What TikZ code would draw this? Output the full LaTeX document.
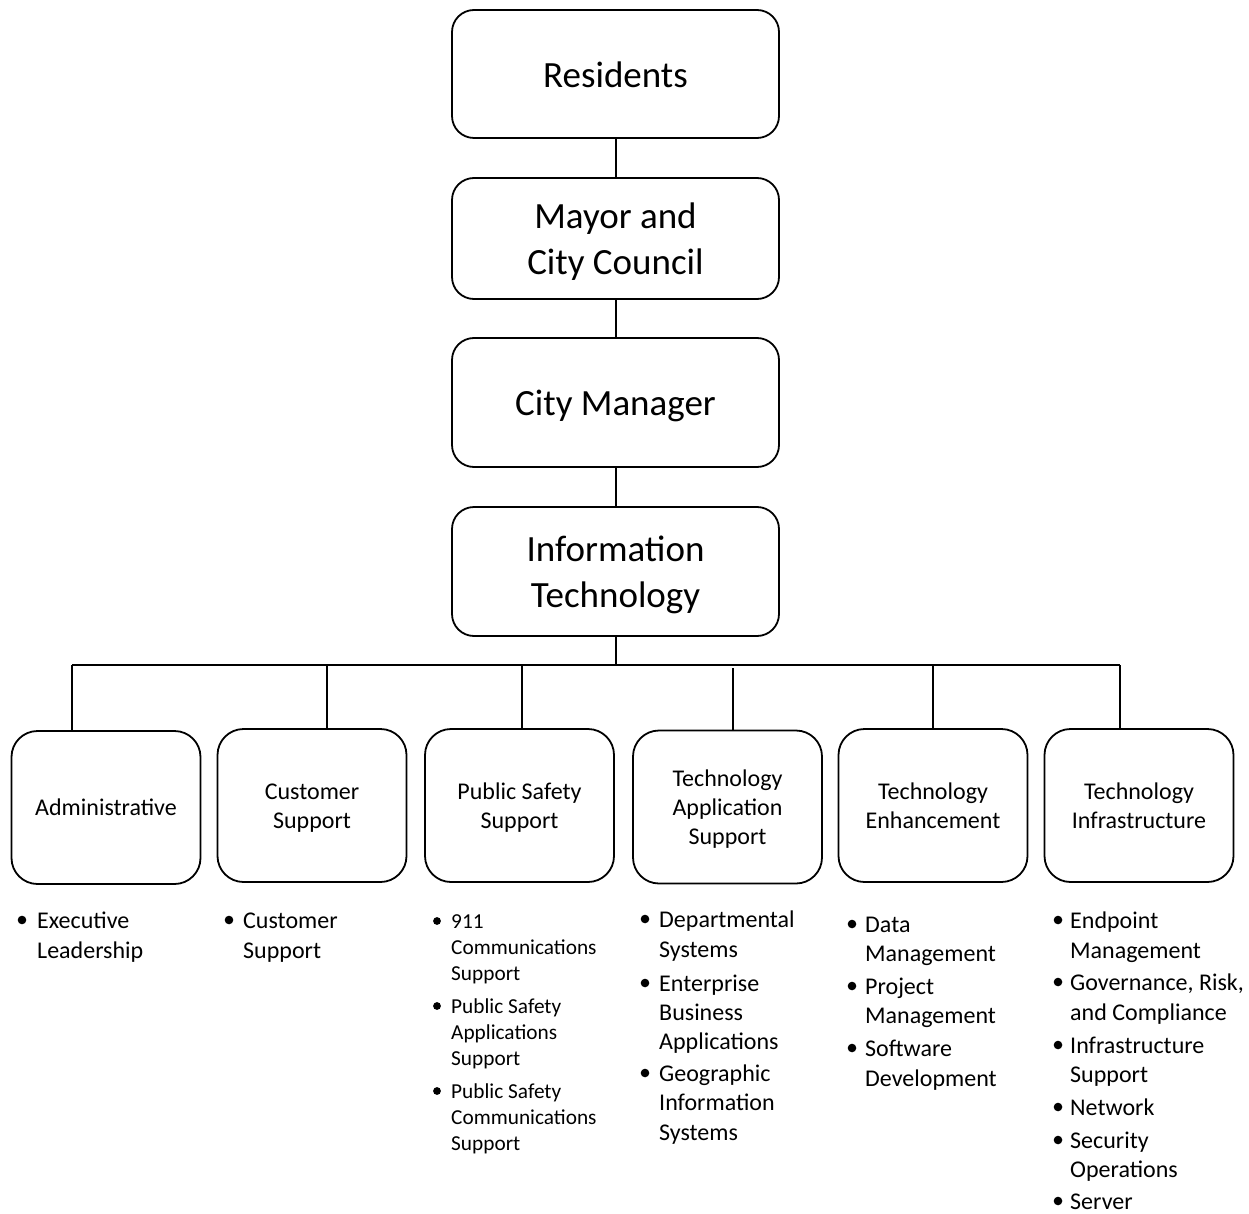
\documentclass[tikz,border=0pt]{standalone}
\usepackage{fontspec}
\setmainfont{Carlito}
\begin{document}
\begin{tikzpicture}[x=1pt,y=-1pt,
  topbox/.style={draw,line width=1.8pt,rounded corners=22pt,minimum width=327pt,inner sep=0pt},
  toptext/.style={align=center,inner sep=0pt,font=\fontsize{37}{46}\selectfont},
  subbox/.style={draw,line width=1.8pt,rounded corners=26pt,minimum width=189pt,minimum height=153pt,inner sep=0pt},
  subtext/.style={align=center,inner sep=0pt,font=\fontsize{24}{29}\selectfont},
  lnode/.style={anchor=base west,inner sep=0pt,font=\fontsize{24}{29}\selectfont},
  snode/.style={anchor=base west,inner sep=0pt,font=\fontsize{21.3}{26}\selectfont},
  conn/.style={line width=2pt}]
\useasboundingbox (0,0) rectangle (1249,1214);
% top chain
\node[topbox,minimum height=128pt] (res) at (615.5,74) {};
\node[toptext] (resT) at (615.5,78.7) {\strut Residents};
\node[topbox,minimum height=121pt] (may) at (615.5,238.5) {};
\node[toptext] (mayT) at (615.5,242.7) {\strut Mayor and\\\strut City Council};
\node[topbox,minimum height=129pt] (cm) at (615.5,402.5) {};
\node[toptext] (cmT) at (615.5,406.7) {\strut City Manager};
\node[topbox,minimum height=129pt] (it) at (615.5,571.5) {};
\node[toptext] (itT) at (615.5,575.2) {\strut Information\\\strut Technology};
\draw[conn] (res) -- (may);
\draw[conn] (may) -- (cm);
\draw[conn] (cm) -- (it);
% sub boxes
\node[subbox] (adm) at (106,807.5) {};
\node[subtext] (admT) at (106,809.9) {\strut Administrative};
\node[subbox] (cus) at (312,805.5) {};
\node[subtext] (cusT) at (312,808.4) {\strut Customer\\\strut Support};
\node[subbox] (pss) at (519.5,805.5) {};
\node[subtext] (pssT) at (519.5,808.4) {\strut Public Safety\\\strut Support};
\node[subbox] (tas) at (727.5,807) {};
\node[subtext] (tasT) at (727.5,809.9) {\strut Technology\\\strut Application\\\strut Support};
\node[subbox] (tes) at (933,805.5) {};
\node[subtext] (tesT) at (933,808.4) {\strut Technology\\\strut Enhancement};
\node[subbox] (tis) at (1139,805.5) {};
\node[subtext] (tisT) at (1139,808.4) {\strut Technology\\\strut Infrastructure};
% bus
\coordinate (bus) at (615.5,665);
\coordinate (bl) at (72,665);
\coordinate (br) at (1120,665);
\draw[conn] (it) -- (bus);
\draw[conn] (bl) -- (br);
\coordinate (d1) at (72,665);
\coordinate (d2) at (327,665);
\coordinate (d3) at (522,665);
\coordinate (d4) at (733,668);
\coordinate (d5) at (933,665);
\coordinate (d6) at (1120,665);
\draw[conn] (d1) -- (d1 |- adm.north);
\draw[conn] (d2) -- (d2 |- cus.north);
\draw[conn] (d3) -- (d3 |- pss.north);
\draw[conn] (d4) -- (d4 |- tas.north);
\draw[conn] (d5) -- (d5 |- tes.north);
\draw[conn] (d6) -- (d6 |- tis.north);
% bullets: centers
\foreach \x/\y in {22/920,229/920,
  645/919,645/983,645/1073,
  852/924,852/986,852/1048,
  1058/920,1058/982,1058/1045,1058/1107,1058/1140,1058/1201}
  \fill (\x,\y) circle (4.3pt);
\foreach \x/\y in {437/921,437/1006,437/1091}
  \fill (\x,\y) circle (3.9pt);
% Administrative list
\node[lnode] (a1) at (37,928) {Executive};
\node[lnode] (a2) at (37,958) {Leadership};
% Customer list
\node[lnode] (c1) at (243,928) {Customer};
\node[lnode] (c2) at (243,958) {Support};
% Public safety list
\node[snode] (p1) at (451,928) {911};
\node[snode] (p2) at (451,954) {Communications};
\node[snode] (p3) at (451,980) {Support};
\node[snode] (p4) at (451,1013) {Public Safety};
\node[snode] (p5) at (451,1039) {Applications};
\node[snode] (p6) at (451,1065) {Support};
\node[snode] (p7) at (451,1098) {Public Safety};
\node[snode] (p8) at (451,1124) {Communications};
\node[snode] (p9) at (451,1150) {Support};
% Tech app list
\node[lnode] (t1) at (659,927) {Departmental};
\node[lnode] (t2) at (659,957) {Systems};
\node[lnode] (t3) at (659,991) {Enterprise};
\node[lnode] (t4) at (659,1020) {Business};
\node[lnode] (t5) at (659,1049) {Applications};
\node[lnode] (t6) at (659,1081) {Geographic};
\node[lnode] (t7) at (659,1110) {Information};
\node[lnode] (t8) at (659,1140) {Systems};
% Tech enhancement list
\node[lnode] (e1) at (865,932) {Data};
\node[lnode] (e2) at (865,961) {Management};
\node[lnode] (e3) at (865,994) {Project};
\node[lnode] (e4) at (865,1023) {Management};
\node[lnode] (e5) at (865,1056) {Software};
\node[lnode] (e6) at (865,1086) {Development};
% Tech infrastructure list
\node[lnode] (i1) at (1070,928) {Endpoint};
\node[lnode] (i2) at (1070,958) {Management};
\node[lnode] (i3) at (1070,990) {Governance, Risk,};
\node[lnode] (i4) at (1070,1020) {and Compliance};
\node[lnode] (i5) at (1070,1053) {Infrastructure};
\node[lnode] (i6) at (1070,1082) {Support};
\node[lnode] (i7) at (1070,1115) {Network};
\node[lnode] (i8) at (1070,1148) {Security};
\node[lnode] (i9) at (1070,1177) {Operations};
\node[lnode] (i10) at (1070,1209) {Server};
\end{tikzpicture}
\end{document}
